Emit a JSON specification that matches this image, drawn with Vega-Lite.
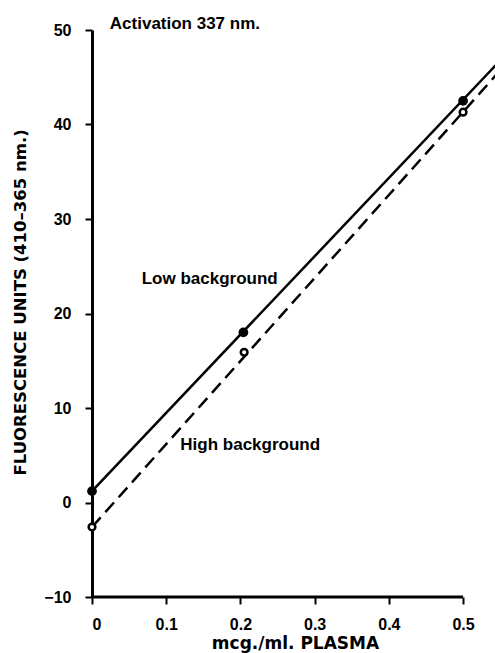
{
  "$schema": "https://vega.github.io/schema/vega-lite/v6.json",
  "width": 403,
  "height": 567,
  "autosize": "none",
  "padding": {"left": 92, "top": 30, "right": 0, "bottom": 56},
  "background": "white",
  "config": {
    "view": {"stroke": null},
    "axis": {
      "labelFont": "Liberation Sans", "labelFontWeight": "bold", "labelFontSize": 16, "labelColor": "black",
      "titleFont": "DejaVu Sans", "titleFontWeight": "bold", "titleFontSize": 16.5, "titleColor": "black",
      "domainColor": "black", "domainWidth": 3, "tickColor": "black", "tickWidth": 2, "tickSize": 7, "grid": false
    }
  },
  "datasets": {
    "points": [
      {"conc": 0.0, "fluor": 1.2, "series": "Low background"},
      {"conc": 0.204, "fluor": 18.0, "series": "Low background"},
      {"conc": 0.5, "fluor": 42.5, "series": "Low background"},
      {"conc": 0.0, "fluor": -2.6, "series": "High background"},
      {"conc": 0.205, "fluor": 15.9, "series": "High background"},
      {"conc": 0.5, "fluor": 41.3, "series": "High background"}
    ],
    "lines": [
      {"conc": 0.0, "fluor": 1.2, "series": "Low background"},
      {"conc": 0.56, "fluor": 47.6, "series": "Low background"},
      {"conc": 0.0, "fluor": -2.6, "series": "High background"},
      {"conc": 0.56, "fluor": 46.6, "series": "High background"}
    ],
    "labels": [
      {"conc": 0.024, "fluor": 50.6, "text": "Activation 337 nm."},
      {"conc": 0.067, "fluor": 23.6, "text": "Low background"},
      {"conc": 0.119, "fluor": 6.1, "text": "High background"}
    ],
    "xaxis": [{"x0": 0, "x1": 0.5, "y": -10}]
  },
  "layer": [
    {
      "data": {"name": "xaxis"},
      "mark": {"type": "rule", "color": "black", "strokeWidth": 3},
      "encoding": {
        "x": {"field": "x0", "type": "quantitative", "scale": {"domain": [0, 0.543], "nice": false, "zero": false},
          "axis": {"title": "mcg./ml.  PLASMA", "values": [0, 0.1, 0.2, 0.3, 0.4, 0.5], "domain": false, "labelPadding": 12,
            "titleX": 203, "titleY": 51, "titleBaseline": "alphabetic", "titleAlign": "center", "titleFontSize": 17,
            "labelExpr": "datum.value == 0 ? '0' : format(datum.value, '.1f')"}},
        "x2": {"field": "x1"},
        "y": {"field": "y", "type": "quantitative", "scale": {"domain": [-10, 50], "nice": false},
          "axis": {"title": "FLUORESCENCE UNITS (410–365 nm.)", "values": [-10, 0, 10, 20, 30, 40, 50], "labelPadding": 14,
            "titleX": -67, "titleY": 445, "titleAlign": "left", "titleBaseline": "alphabetic", "titleAngle": -90}}
      }
    },
    {
      "data": {"name": "lines"},
      "transform": [{"filter": "datum.series == 'Low background'"}],
      "mark": {"type": "line", "color": "black", "strokeWidth": 2.5, "clip": true},
      "encoding": {
        "x": {"field": "conc", "type": "quantitative"},
        "y": {"field": "fluor", "type": "quantitative"}
      }
    },
    {
      "data": {"name": "lines"},
      "transform": [{"filter": "datum.series == 'High background'"}],
      "mark": {"type": "line", "color": "black", "strokeWidth": 2.5, "strokeDash": [13, 7], "clip": true},
      "encoding": {
        "x": {"field": "conc", "type": "quantitative"},
        "y": {"field": "fluor", "type": "quantitative"}
      }
    },
    {
      "data": {"name": "points"},
      "transform": [{"filter": "datum.series == 'Low background'"}],
      "mark": {"type": "point", "shape": "circle", "filled": true, "color": "black", "size": 95, "opacity": 1},
      "encoding": {
        "x": {"field": "conc", "type": "quantitative"},
        "y": {"field": "fluor", "type": "quantitative"}
      }
    },
    {
      "data": {"name": "points"},
      "transform": [{"filter": "datum.series == 'High background'"}],
      "mark": {"type": "point", "shape": "circle", "filled": false, "fill": "white", "stroke": "black", "strokeWidth": 2.5, "size": 45, "opacity": 1},
      "encoding": {
        "x": {"field": "conc", "type": "quantitative"},
        "y": {"field": "fluor", "type": "quantitative"}
      }
    },
    {
      "data": {"name": "labels"},
      "mark": {"type": "text", "align": "left", "baseline": "middle", "font": "Liberation Sans", "fontWeight": "bold", "fontSize": 17, "color": "black"},
      "encoding": {
        "x": {"field": "conc", "type": "quantitative"},
        "y": {"field": "fluor", "type": "quantitative"},
        "text": {"field": "text"}
      }
    }
  ]
}
